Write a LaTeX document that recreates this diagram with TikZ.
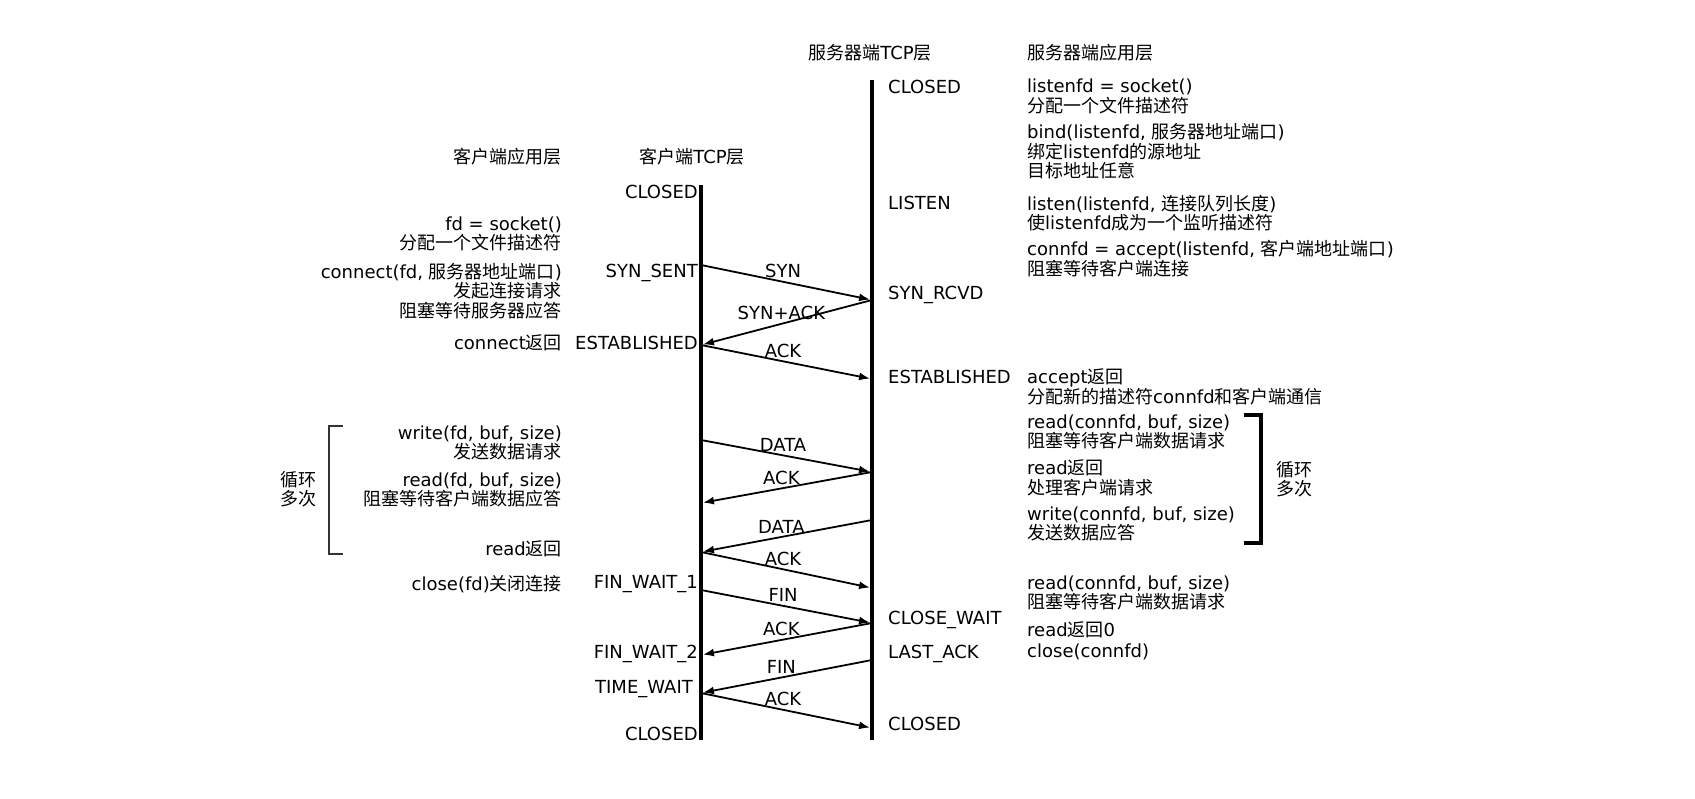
\documentclass[tikz,border=0pt]{standalone}
\usepackage{fontspec}
\setmainfont{DejaVu Sans}
\newfontfamily\cjk{Noto Sans CJK SC}
\newcommand{\zh}[1]{{\cjk #1}}
\usetikzlibrary{arrows.meta}

\begin{document}
\begin{tikzpicture}[x=1pt, y=-1pt,
    every node/.style={font=\fontsize{18}{19.5}\selectfont, inner sep=0pt},
    lifeline/.style={line width=4.5pt},
    msg/.style={line width=1.8pt, shorten >=2pt, -{Latex[length=11pt, width=8pt]}},
    lbl/.style={above=3pt, pos=0.48},
    lblr/.style={above=3pt, pos=0.53},
    stc/.style={anchor=east},
    sts/.style={anchor=west},
    appc/.style={anchor=east, align=right},
    apps/.style={anchor=west, align=left}
    ]
    \useasboundingbox (0,0) rectangle (1695,799);

    \node[anchor=east] (hca) at (562,157) {\zh{客户端应用层}};
    \node (hct) at (692,157) {\zh{客户端}TCP\zh{层}};
    \node (hst) at (870,53) {\zh{服务器端}TCP\zh{层}};
    \node[anchor=west] (hsa) at (1027,53) {\zh{服务器端应用层}};

    \coordinate (ctop) at (701,185);
    \coordinate (cbot) at (701,740);
    \coordinate (stop) at (872,80);
    \coordinate (sbot) at (872,740);
    \draw[lifeline] (ctop) -- (cbot);
    \draw[lifeline] (stop) -- (sbot);

    \node[stc] (c0) at (698,192) {CLOSED};
    \node[stc] (c1) at (698,273) {SYN\_SENT};
    \node[stc] (c2) at (698,343) {ESTABLISHED};
    \node[stc] (c3) at (698,584) {FIN\_WAIT\_1};
    \node[stc] (c4) at (698,654) {FIN\_WAIT\_2};
    \node[stc] (c5) at (693,689) {TIME\_WAIT};
    \node[stc] (c6) at (698,734) {CLOSED};

    \node[sts] (s0) at (888,87) {CLOSED};
    \node[sts] (s1) at (888,203) {LISTEN};
    \node[sts] (s2) at (888,295) {SYN\_RCVD};
    \node[sts] (s3) at (888,377) {ESTABLISHED};
    \node[sts] (s4) at (888,620) {CLOSE\_WAIT};
    \node[sts] (s5) at (888,654) {LAST\_ACK};
    \node[sts] (s6) at (888,724) {CLOSED};

    \node[appc] (csock) at (562,234) {fd = socket()\\\zh{分配一个文件描述符}};
    \node[appc] (cconn) at (562,291) {connect(fd, \zh{服务器地址端口})\\\zh{发起连接请求}\\\zh{阻塞等待服务器应答}};
    \node[appc] (cconret) at (562,343) {connect\zh{返回}};
    \node[appc] (cwrite) at (562,443) {write(fd, buf, size)\\\zh{发送数据请求}};
    \node[appc] (cread) at (562,490) {read(fd, buf, size)\\\zh{阻塞等待客户端数据应答}};
    \node[appc] (creadret) at (562,549) {read\zh{返回}};
    \node[appc] (cclose) at (562,584) {close(fd)\zh{关闭连接}};

    \node[apps] (ssock) at (1027,96.5) {listenfd = socket()\\\zh{分配一个文件描述符}};
    \node[apps] (sbind) at (1027,151.5) {bind(listenfd, \zh{服务器地址端口})\\\zh{绑定}listenfd\zh{的源地址}\\\zh{目标地址任意}};
    \node[apps] (slisten) at (1027,213) {listen(listenfd, \zh{连接队列长度})\\\zh{使}listenfd\zh{成为一个监听描述符}};
    \node[apps] (saccept) at (1027,258.5) {connfd = accept(listenfd, \zh{客户端地址端口})\\\zh{阻塞等待客户端连接}};
    \node[apps] (sacret) at (1027,387) {accept\zh{返回}\\\zh{分配新的描述符}connfd\zh{和客户端通信}};
    \node[apps] (sread) at (1027,432) {read(connfd, buf, size)\\\zh{阻塞等待客户端数据请求}};
    \node[apps] (sreadret) at (1027,478) {read\zh{返回}\\\zh{处理客户端请求}};
    \node[apps] (swrite) at (1027,524) {write(connfd, buf, size)\\\zh{发送数据应答}};
    \node[apps] (sreadb) at (1027,593) {read(connfd, buf, size)\\\zh{阻塞等待客户端数据请求}};
    \node[apps] (sread0) at (1027,630) {read\zh{返回}0};
    \node[apps] (sclose) at (1027,652) {close(connfd)};

    \draw[line width=2pt, black!80] (343,426) -| (329,554) -- (343,554);
    \node[align=center] (cloop) at (298,489) {\zh{循环}\\\zh{多次}};
    \draw[line width=3.5pt] (1244,415) -| (1261,543) -- (1244,543);
    \node[align=center] (sloop) at (1294,479) {\zh{循环}\\\zh{多次}};

    \coordinate (csyn) at (701,265);
    \coordinate (cest) at (701,345);
    \coordinate (cd1) at (701,440);
    \coordinate (ca1) at (701,503);
    \coordinate (cd2) at (701,552);
    \coordinate (cfin) at (701,590);
    \coordinate (cfw2) at (701,655);
    \coordinate (ctw) at (701,693);
    \coordinate (srcv) at (872,300);
    \coordinate (sest) at (872,379);
    \coordinate (sd1) at (872,472);
    \coordinate (sd2) at (872,520);
    \coordinate (sa2) at (872,588);
    \coordinate (scw) at (872,623);
    \coordinate (sla) at (872,660);
    \coordinate (scl) at (872,728);

    \draw[msg] (csyn) -- node[lbl] (m1) {SYN} (srcv);
    \draw[msg] (srcv) -- node[lblr] (m2) {SYN+ACK} (cest);
    \draw[msg] (cest) -- node[lbl] (m3) {ACK} (sest);
    \draw[msg] (cd1) -- node[lbl] (m4) {DATA} (sd1);
    \draw[msg] (sd1) -- node[lblr] (m5) {ACK} (ca1);
    \draw[msg] (sd2) -- node[lblr] (m6) {DATA} (cd2);
    \draw[msg] (cd2) -- node[lbl] (m7) {ACK} (sa2);
    \draw[msg] (cfin) -- node[lbl] (m8) {FIN} (scw);
    \draw[msg] (scw) -- node[lblr] (m9) {ACK} (cfw2);
    \draw[msg] (sla) -- node[lblr] (m10) {FIN} (ctw);
    \draw[msg] (ctw) -- node[lbl] (m11) {ACK} (scl);
  \end{tikzpicture}
\end{document}
